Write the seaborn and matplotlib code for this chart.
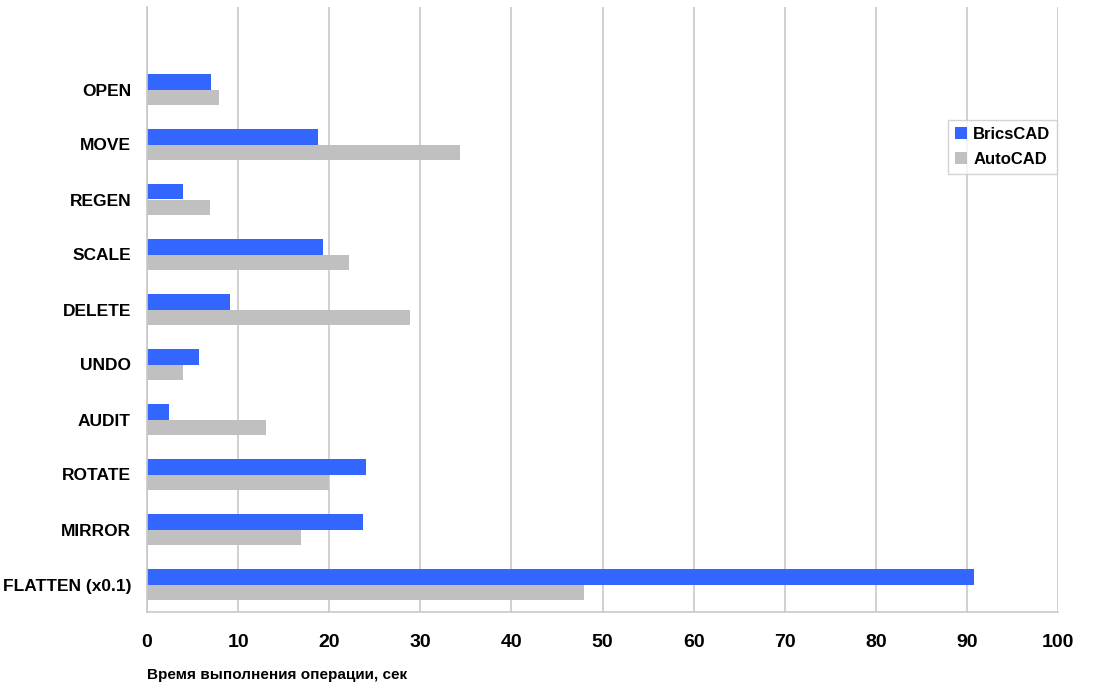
import matplotlib
matplotlib.use('Agg')
import matplotlib.pyplot as plt
import seaborn as sns
import pandas as pd
import numpy as np

# Operation names, top to bottom
operations = ['OPEN', 'MOVE', 'REGEN', 'SCALE', 'DELETE', 'UNDO',
              'AUDIT', 'ROTATE', 'MIRROR', 'FLATTEN (x0.1)']

# Time in seconds
bricscad = [7.0, 18.8, 4.0, 19.3, 9.1, 5.7, 2.45, 24.0, 23.7, 90.8]
autocad = [7.9, 34.4, 6.9, 22.2, 28.9, 4.0, 13.1, 20.0, 16.9, 48.0]

products = ['BricsCAD', 'AutoCAD']
colors = {'BricsCAD': '#3366FF', 'AutoCAD': '#C0C0C0'}

df = pd.DataFrame({
    'operation': operations * 2,
    'product': ['BricsCAD'] * len(operations) + ['AutoCAD'] * len(operations),
    'time': bricscad + autocad,
})

sns.set_style('white')
plt.rcParams['font.family'] = ['Liberation Sans', 'DejaVu Sans']
plt.rcParams['text.color'] = 'black'
plt.rcParams['xtick.color'] = 'black'
plt.rcParams['ytick.color'] = 'black'
plt.rcParams['axes.labelcolor'] = 'black'

fig = plt.figure(figsize=(11.04, 6.86), dpi=100)
ax = fig.add_axes([147 / 1104, 1 - 612 / 686, (1058 - 147) / 1104, (612 - 7) / 686])

sns.barplot(data=df, x='time', y='operation', hue='product', order=operations,
            hue_order=products, palette=colors, orient='h', width=0.56,
            ax=ax, saturation=1, errorbar=None, linewidth=0)

# one empty slot above OPEN
ax.set_ylim(len(operations) - 0.5, -1.5)
ax.set_xlim(0, 100)
ax.set_xticks(np.arange(0, 101, 10))
ax.set_xticklabels([str(v) for v in range(0, 101, 10)], fontsize=14, fontweight='bold')
ax.set_yticks(range(len(operations)))
ax.set_yticklabels(operations, fontsize=12.5, fontweight='bold')
ax.set_yticks(np.arange(-1.5, len(operations), 1.0), minor=True)

ax.tick_params(axis='y', which='major', length=0, pad=11.5)
ax.tick_params(axis='y', which='minor', length=6, color='#C8C8C8', width=1.2)
ax.tick_params(axis='x', which='major', length=8, color='#C8C8C8', width=1.2,
               pad=8, labelcolor='black')

ax.grid(axis='x', color='#C8C8C8', linewidth=1.2)
ax.set_axisbelow(True)
for side in ['top', 'right']:
    ax.spines[side].set_visible(False)
for side in ['left', 'bottom']:
    ax.spines[side].set_color('#C8C8C8')
    ax.spines[side].set_linewidth(1.2)

ax.set_ylabel('')
ax.set_xlabel('Время выполнения операции, сек', fontsize=11, fontweight='bold')
ax.xaxis.set_label_coords(0, -0.092)
ax.xaxis.label.set_horizontalalignment('left')

leg = ax.legend(loc='upper left', bbox_to_anchor=((940 - 147) / 911, 1 - (112 - 7) / 605),
                frameon=True, fancybox=False, handlelength=0.7, handleheight=0.7,
                handletextpad=0.4, borderpad=0.4, labelspacing=0.6,
                prop={'weight': 'bold', 'size': 12})
leg.get_frame().set_edgecolor('#C8C8C8')
leg.get_frame().set_linewidth(1.0)

plt.savefig('out.png', dpi=100)
plt.close()
